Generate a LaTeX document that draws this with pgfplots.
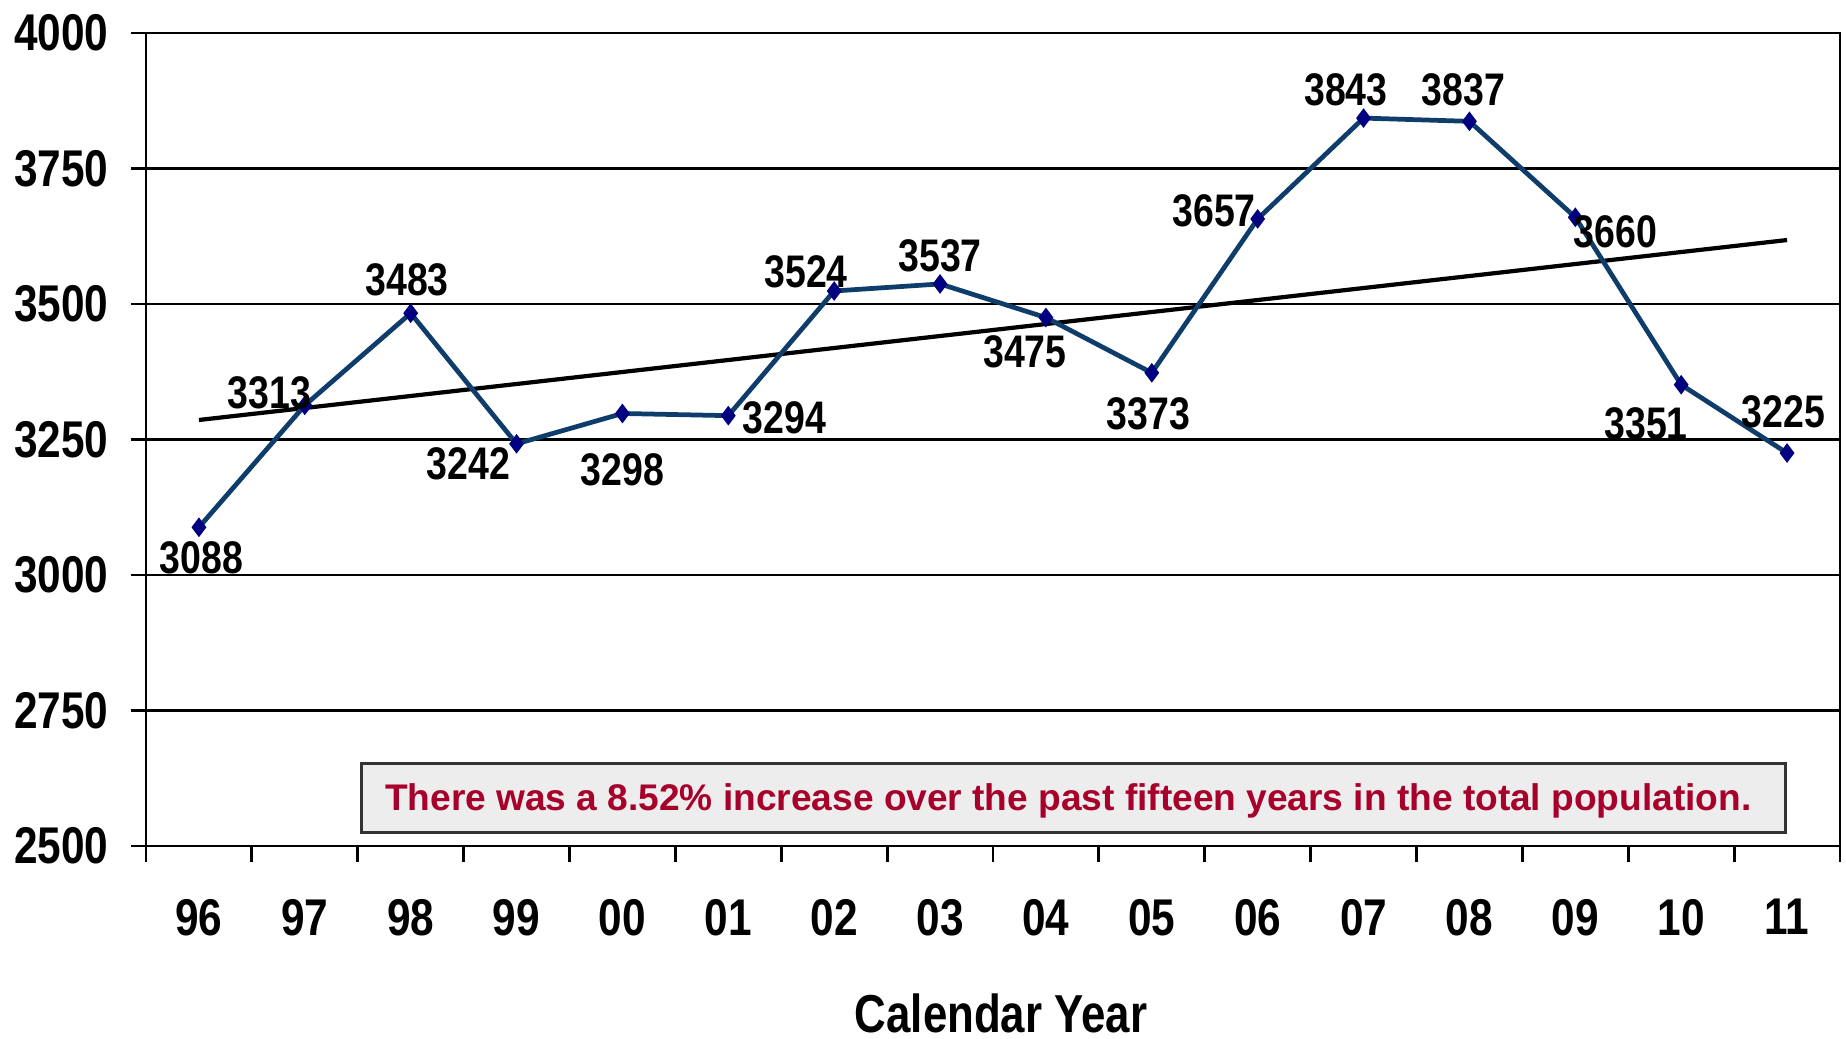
\documentclass[border=0pt]{standalone}
\usepackage{fontspec}
\setmainfont{Liberation Sans}
\newfontfamily\narrowfont[FakeStretch=0.82]{Liberation Sans}
\usepackage{pgfplots}
\pgfplotsset{compat=1.18}
\definecolor{lineblue}{HTML}{0F3D6B}
\definecolor{markblue}{HTML}{000080}
\definecolor{boxred}{HTML}{A6002B}
\definecolor{boxgray}{HTML}{EDEDED}

\pgfplotstableread{
x  y    dx    dy
0  3088  0.7  -8.7
1  3313 -10.0  3.7
2  3483 -1.0   9.4
3  3242 -13.7 -5.7
4  3298  0.0 -16.0
5  3294  16.0 -0.7
6  3524 -8.0   5.4
7  3537  0.0   8.0
8  3475 -6.0  -9.7
9  3373 -1.0 -11.7
10 3657 -12.4  2.3
11 3843 -5.0   8.0
12 3837 -1.7   9.0
13 3660  11.4 -4.0
14 3351 -10.0 -11.0
15 3225 -1.0  11.7
}\popdata

\begin{document}
\begin{tikzpicture}
\begin{axis}[
  scale only axis,
  width=16.94cm, height=8.13cm,
  xmin=-0.5, xmax=15.5,
  ymin=2500, ymax=4000,
  xtick={0,...,15},
  xticklabels={96,97,98,99,00,01,02,03,04,05,06,07,08,09,10,11},
  minor xtick={-0.5,0.5,...,15.5},
  ytick={2500,2750,...,4000},
  ymajorgrids=true,
  grid style={black, line width=0.7pt},
  axis line style={black, line width=0.8pt},
  tick align=outside,
  tick pos=left,
  major tick length=0.15cm,
  minor tick length=0.16cm,
  major x tick style={draw=none},
  every tick/.style={black, line width=0.8pt},
  minor x tick style={black, line width=0.8pt},
  /pgf/number format/assume math mode=true,
  /pgf/number format/set thousands separator={},
  ticklabel style={font=\narrowfont\bfseries\fontsize{14.7}{16}\selectfont},
  yticklabel style={xshift=-0.1cm},
  xticklabel style={yshift=-0.26cm},
  xlabel={Calendar Year},
  xlabel style={font=\narrowfont\bfseries\fontsize{15.2}{17}\selectfont, yshift=-0.34cm, xshift=0.08cm},
  clip=false,
]
\draw[fill=boxgray, draw=black!80, line width=0.8pt]
  (rel axis cs:0.127,0.017) rectangle (rel axis cs:0.968,0.101);
\node[text=boxred, font=\bfseries\fontsize{10.55}{12}\selectfont]
  at (rel axis cs:0.5445,0.055) {There was a 8.52\% increase over the past fifteen years in the total population.};
\addplot[black, line width=1.2pt] coordinates {(0,3286) (15,3618)};
\addplot[lineblue, line width=1.35pt, mark=diamond*, mark size=2.4pt,
  mark options={fill=markblue, draw=markblue, line width=0.5pt},
  visualization depends on={\thisrow{dx} \as \dx},
  visualization depends on={\thisrow{dy} \as \dy},
  nodes near coords,
  point meta=explicit symbolic,
  nodes near coords style={anchor=center, xshift=\dx pt, yshift=\dy pt,
    text=black, font=\narrowfont\bfseries\fontsize{13}{15}\selectfont},
] table[x=x, y=y, meta=y] {\popdata};
\end{axis}
\pgfresetboundingbox
\path (-1.46,-1.93) rectangle (17.00,8.46);
\end{tikzpicture}
\end{document}
